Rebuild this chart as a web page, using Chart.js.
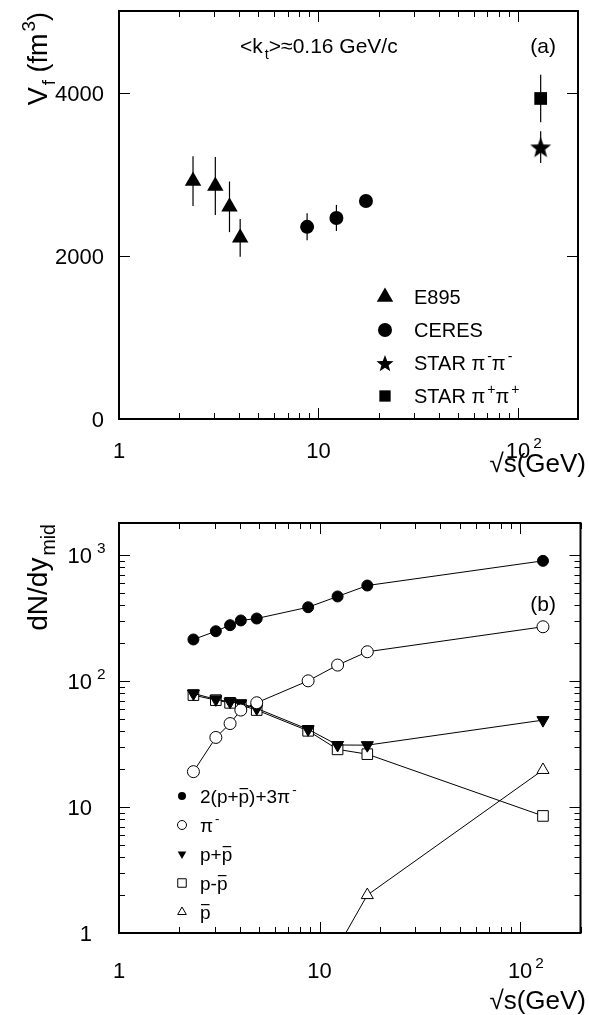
<!DOCTYPE html>
<html>
<head>
<meta charset="utf-8">
<script src="https://cdn.jsdelivr.net/npm/chart.js@4"></script>
<style>
body { margin: 0; background: #fff; }
#wrap { position: relative; width: 589px; height: 1015px; }
canvas { position: absolute; left: 0; }
#chartA { top: 0; }
#chartB { top: 480px; }
</style>
</head>
<body>
<div id="wrap">
<canvas id="chartA" width="589" height="480"></canvas>
<canvas id="chartB" width="589" height="535"></canvas>
</div>
<script>
// ---- panel (a): freeze-out volume vs sqrt(s) ----
const e895X = [2.35, 3.04, 3.58, 4.05];
const e895Y = [2916, 2855, 2600, 2220];
const e895Err = [305, 355, 310, 232];
const ceresX = [8.77, 12.3, 17.3];
const ceresY = [2355, 2464, 2672];
const ceresErr = [165, 160, 60];
const starX = [130];
const starMinusY = [3331];
const starMinusErr = [195];
const starPlusY = [3928];
const starPlusErr = [290];

// ---- panel (b): dN/dy at midrapidity ----
const sqrtS = [2.35, 3.04, 3.58, 4.05, 4.86, 8.77, 12.3, 17.3, 130];
const sumY = [214, 249, 278, 303, 314, 386, 470, 574, 901];
const piMinusY = [19.1, 35.7, 46, 58.9, 67.3, 100.5, 134, 171, 270];
const pPlusPbarY = [79.8, 71.6, 68.5, 66.5, 60.7, 41.4, 31.1, 31, 49];
const pMinusPbarY = [77.4, 70.6, 67.2, 64.5, 58.9, 40.3, 28.7, 26.3, 8.5];
const pbarX = [12.3, 17.3, 130];
const pbarY = [0.77, 2.0, 19.7];

// ---- axes ----
const xMajorTicks = [1, 10, 100];
const xMinorTicks = [2, 3, 4, 5, 6, 7, 8, 9, 20, 30, 40, 50, 60, 70, 80, 90, 200];
const xTickLabels = ['1', '10', '10^2'];
const yTicksA = [0, 2000, 4000];
const yTickLabelsA = ['0', '2000', '4000'];
const yMajorTicksB = [1, 10, 100, 1000];
const yMinorTicksB = [2, 3, 4, 5, 6, 7, 8, 9, 20, 30, 40, 50, 60, 70, 80, 90, 200, 300, 400, 500, 600, 700, 800, 900];
const yTickLabelsB = ['1', '10', '10^2', '10^3'];

const FONT = '"Liberation Sans", Arial, Helvetica, sans-serif';

// filled five-point star for STAR pi-pi-
function makeStar(r) {
    const c = document.createElement('canvas');
    c.width = c.height = 2 * r;
    const g = c.getContext('2d');
    g.beginPath();
    for (let i = 0; i < 10; i++) {
        const rr = i % 2 ? r * 0.42 : r;
        const a = -Math.PI / 2 + i * Math.PI / 5;
        g.lineTo(r + rr * Math.cos(a), r + 1 + rr * Math.sin(a));
    }
    g.closePath();
    g.fillStyle = '#000';
    g.fill();
    return c;
}
const starBig = makeStar(11);

// text with sub/superscripts and overlines: parts = [[text, kind], ...]
function richWidth(ctx, parts, size) {
    let w = 0;
    for (const [t, k] of parts) {
        const small = k === 'sup' || k === 'sub';
        ctx.font = (small ? size * 0.7 : size) + 'px ' + FONT;
        w += ctx.measureText(t).width + (small ? 2 : 0);
    }
    return w;
}
function drawRich(ctx, parts, x, y, size, align, supGap) {
    const w = richWidth(ctx, parts, size);
    let cx = align === 'right' ? x - w : align === 'center' ? x - w / 2 : x;
    ctx.textAlign = 'left';
    ctx.textBaseline = 'alphabetic';
    ctx.fillStyle = '#000';
    for (const [t, k] of parts) {
        const small = k === 'sup' || k === 'sub';
        ctx.font = (small ? size * 0.7 : size) + 'px ' + FONT;
        const dy = k === 'sup' ? -size * 0.45 : k === 'sub' ? size * 0.28 : 0;
        if (small) cx += (k === 'sup' && supGap) ? supGap : 2;
        ctx.fillText(t, cx, y + dy);
        const tw = ctx.measureText(t).width;
        if (k === 'bar') ctx.fillRect(cx + 1, y - size * 0.78, tw - 2, 1.2);
        cx += tw;
    }
}

// tick label "10^2" -> base + exponent
function tickParts(s) {
    const p = s.split('^');
    return p.length > 1 ? [[p[0]], [p[1], 'sup']] : [[p[0]]];
}

function marker(ctx, style, x, y) {
    ctx.save();
    ctx.fillStyle = style.fill;
    ctx.strokeStyle = '#000';
    ctx.lineWidth = style.border || 0;
    Chart.helpers.drawPoint(ctx, {
        pointStyle: style.pointStyle, radius: style.radius,
        rotation: style.rotation || 0, borderWidth: style.border || 0
    }, x, y);
    ctx.restore();
}

// ROOT-like frame: box, inward ticks, labels, titles, legend, error bars
const rootFrame = {
    id: 'rootFrame',
    beforeDatasetsDraw(chart, args, o) {
        const ctx = chart.ctx;
        const { x, y } = chart.scales;
        ctx.save();
        ctx.strokeStyle = '#000';
        ctx.lineWidth = 1.2;
        chart.data.datasets.forEach(ds => {
            if (!ds.errors) return;
            ds.data.forEach((p, i) => {
                const px = x.getPixelForValue(p.x);
                ctx.beginPath();
                ctx.moveTo(px, y.getPixelForValue(p.y + ds.errors[i]));
                ctx.lineTo(px, y.getPixelForValue(p.y - ds.errors[i]));
                ctx.stroke();
            });
        });
        ctx.restore();
    },
    afterDatasetsDraw(chart, args, o) {
        const ctx = chart.ctx;
        const a = chart.chartArea;
        const { x, y } = chart.scales;
        ctx.save();
        ctx.strokeStyle = '#000';
        ctx.lineWidth = 1;
        ctx.beginPath();
        const xt = (list, len) => list.forEach(v => {
            const px = Math.round(x.getPixelForValue(v)) + 0.5;
            ctx.moveTo(px, a.bottom); ctx.lineTo(px, a.bottom - len);
            ctx.moveTo(px, a.top); ctx.lineTo(px, a.top + len);
        });
        const yt = (list, len) => list.forEach(v => {
            const py = Math.round(y.getPixelForValue(v)) + 0.5;
            ctx.moveTo(a.left, py); ctx.lineTo(a.left + len, py);
            ctx.moveTo(a.right, py); ctx.lineTo(a.right - len, py);
        });
        xt(xMajorTicks, 11);
        xt(xMinorTicks, 6);
        yt(o.yMajor, 11);
        yt(o.yMinor, 6);
        ctx.stroke();

        ctx.lineWidth = 2;
        ctx.strokeRect(a.left, a.top, a.right - a.left, a.bottom - a.top);

        // x tick labels: base centred on the tick, exponent hanging right
        xMajorTicks.forEach((v, i) => {
            const parts = tickParts(xTickLabels[i]);
            const px = x.getPixelForValue(v);
            ctx.font = '22px ' + FONT;
            const bw = ctx.measureText(parts[0][0]).width;
            drawRich(ctx, parts, px - bw / 2, a.bottom + o.xLabelDy, 22, 'left', 3);
        });
        // y tick labels: base right-aligned
        o.yMajor.forEach((v, i) => {
            const parts = tickParts(o.yLabels[i]);
            const py = y.getPixelForValue(v);
            ctx.font = '22px ' + FONT;
            const bw = ctx.measureText(parts[0][0]).width;
            drawRich(ctx, parts, o.yLabelX - bw, py + 8, 22, 'left', 5);
        });

        // axis titles
        drawRich(ctx, [['√s(GeV)']], 586, a.bottom + o.xTitleDy, 26, 'right');
        ctx.save();
        ctx.translate(o.yTitleX, a.top + 1);
        ctx.rotate(-Math.PI / 2);
        drawRich(ctx, o.yTitle, 0, 0, o.yTitleSize, 'right');
        ctx.restore();

        // free texts
        o.texts.forEach(t => drawRich(ctx, t.parts, t.x, t.y, t.size, t.align));

        // legend
        o.legend.forEach((e, i) => {
            const ly = o.legendY + i * o.legendStep;
            marker(ctx, e.style, o.legendMarkerX, ly);
            drawRich(ctx, e.parts, o.legendTextX, ly + o.legendSize * 0.36, o.legendSize, 'left');
        });
        ctx.restore();
    }
};

const pts = (xs, ys) => xs.map((v, i) => ({ x: v, y: ys[i] }));

// ---------- chart (a) ----------
const styleTri = { pointStyle: 'triangle', radius: 9.5, fill: '#000' };
const styleCirc = { pointStyle: 'circle', radius: 7, fill: '#000' };

new Chart(document.getElementById('chartA'), {
    type: 'scatter',
    data: {
        datasets: [
            { label: 'E895', data: pts(e895X, e895Y), errors: e895Err, pointStyle: 'triangle', pointRadius: 9.5, backgroundColor: '#000', borderWidth: 0 },
            { label: 'CERES', data: pts(ceresX, ceresY), errors: ceresErr, pointStyle: 'circle', pointRadius: 7, backgroundColor: '#000', borderWidth: 0 },
            { label: 'STAR pi-pi-', data: pts(starX, starMinusY), errors: starMinusErr, pointStyle: starBig, pointRadius: 11, backgroundColor: '#000', borderWidth: 0 },
            { label: 'STAR pi+pi+', data: pts(starX, starPlusY), errors: starPlusErr, pointStyle: 'rect', pointRadius: 9, backgroundColor: '#000', borderWidth: 0 }
        ]
    },
    options: {
        responsive: false,
        animation: false,
        devicePixelRatio: 1,
        layout: { padding: { left: 119, right: 7, top: 9, bottom: 61 } },
        scales: {
            x: { type: 'logarithmic', min: 1, max: 200, display: false },
            y: { type: 'linear', min: 0, max: 5000, display: false }
        },
        plugins: {
            legend: { display: false },
            tooltip: { enabled: false },
            rootFrame: {
                yMajor: yTicksA, yMinor: [], yLabels: yTickLabelsA, yLabelX: 104,
                xLabelDy: 39, xTitleDy: 53, yTitleX: 47, yTitleSize: 27,
                yTitle: [['V'], ['f', 'sub'], [' (fm'], ['3', 'sup'], [')']],
                texts: [
                    { parts: [['<k'], ['t', 'sub'], ['>≈0.16 GeV/c']], x: 240, y: 53, size: 21, align: 'left' },
                    { parts: [['(a)']], x: 556, y: 53, size: 21, align: 'right' }
                ],
                legend: [
                    { style: styleTri, parts: [['E895']] },
                    { style: styleCirc, parts: [['CERES']] },
                    { style: { pointStyle: makeStar(9), radius: 9, fill: '#000' }, parts: [['STAR π'], ['-', 'sup'], ['π'], ['-', 'sup']] },
                    { style: { pointStyle: 'rect', radius: 8, fill: '#000' }, parts: [['STAR π'], ['+', 'sup'], ['π'], ['+', 'sup']] }
                ],
                legendY: 297, legendStep: 33, legendMarkerX: 385, legendTextX: 414, legendSize: 20
            }
        }
    },
    plugins: [rootFrame]
});

// ---------- chart (b) ----------
const lineSet = (label, xs, ys, extra) => Object.assign({
    label, data: pts(xs, ys), showLine: true, borderColor: '#000', borderWidth: 1,
    pointBorderColor: '#000', pointBorderWidth: 1
}, extra);

new Chart(document.getElementById('chartB'), {
    type: 'scatter',
    data: {
        datasets: [
            lineSet('2(p+pbar)+3pi-', sqrtS, sumY, { pointStyle: 'circle', pointRadius: 5.5, pointBackgroundColor: '#000' }),
            lineSet('pi-', sqrtS, piMinusY, { pointStyle: 'circle', pointRadius: 6, pointBackgroundColor: '#fff' }),
            lineSet('p+pbar', sqrtS, pPlusPbarY, { pointStyle: 'triangle', pointRotation: 180, pointRadius: 7, pointBackgroundColor: '#000' }),
            lineSet('p-pbar', sqrtS, pMinusPbarY, { pointStyle: 'rect', pointRadius: 7.5, pointBackgroundColor: '#fff' }),
            lineSet('pbar', pbarX, pbarY, { pointStyle: 'triangle', pointRadius: 7, pointBackgroundColor: '#fff' })
        ]
    },
    options: {
        responsive: false,
        animation: false,
        devicePixelRatio: 1,
        layout: { padding: { left: 119, right: 7, top: 43, bottom: 82 } },
        scales: {
            x: { type: 'logarithmic', min: 1, max: 200, display: false },
            y: { type: 'logarithmic', min: 1, max: 1800, display: false }
        },
        plugins: {
            legend: { display: false },
            tooltip: { enabled: false },
            rootFrame: {
                yMajor: yMajorTicksB, yMinor: yMinorTicksB, yLabels: yTickLabelsB, yLabelX: 92,
                xLabelDy: 45, xTitleDy: 76, yTitleX: 47, yTitleSize: 28,
                yTitle: [['dN/dy'], ['mid', 'sub']],
                texts: [
                    { parts: [['(b)']], x: 556, y: 131, size: 21, align: 'right' }
                ],
                legend: [
                    { style: { pointStyle: 'circle', radius: 4, fill: '#000' }, parts: [['2(p+'], ['p', 'bar'], [')+3π'], ['-', 'sup']] },
                    { style: { pointStyle: 'circle', radius: 4.5, fill: '#fff', border: 1 }, parts: [['π'], ['-', 'sup']] },
                    { style: { pointStyle: 'triangle', rotation: 180, radius: 5, fill: '#000' }, parts: [['p+'], ['p', 'bar']] },
                    { style: { pointStyle: 'rect', radius: 6, fill: '#fff', border: 1 }, parts: [['p-'], ['p', 'bar']] },
                    { style: { pointStyle: 'triangle', radius: 5, fill: '#fff', border: 1 }, parts: [['p', 'bar']] }
                ],
                legendY: 316, legendStep: 29, legendMarkerX: 182, legendTextX: 200, legendSize: 19
            }
        }
    },
    plugins: [rootFrame]
});
</script>
</body>
</html>
